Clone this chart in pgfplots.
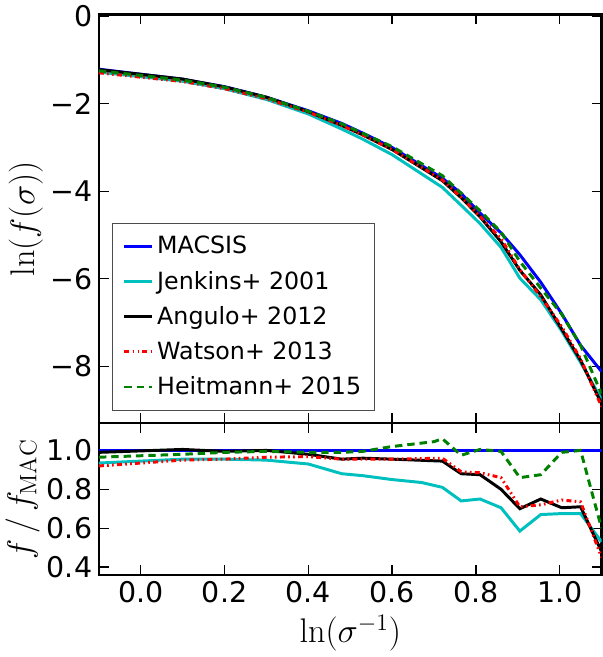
\documentclass[border=0pt]{standalone}
\usepackage{fontspec}
\setsansfont{DejaVu Sans}
\usepackage{pgfplots}
\pgfplotsset{compat=1.18}
\definecolor{mcyan}{rgb}{0,0.75,0.75}
\definecolor{mgreen}{rgb}{0,0.5,0}
\pgfplotsset{
  every axis/.append style={
    scale only axis, width=305pt, xmin=-0.1, xmax=1.1,
    line width=1.5pt, tick style={line width=0.8pt,black}, tick align=inside,
    major tick length=6pt,
    ticklabel style={font=\sffamily\LARGE},
    /pgf/number format/assume math mode=true,
    /pgf/number format/fixed, /pgf/number format/fixed zerofill,
    label style={font=\huge},
  },
  ser/.style={line width=1.8pt},
}
\begin{document}
\begin{tikzpicture}
\begin{axis}[name=top, height=248pt, ymin=-9.3, ymax=0.04,
  xticklabels={}, ytick={0,-2,-4,-6,-8}, yticklabels={0,−2,−4,−6,−8},
  ylabel={$\ln(f(\sigma))$}, ylabel style={yshift=-3pt},
  legend style={at={(0.027,0.03)}, anchor=south west, font=\sffamily\Large, draw=black!70, line width=0.6pt, row sep=5pt, inner sep=6pt},
  legend cell align=left]
\addplot[blue, ser] coordinates {(-0.1,-1.21)(0.1,-1.44)(0.2,-1.61)(0.3,-1.85)(0.4,-2.16)(0.48,-2.45)(0.53,-2.67)(0.6,-3.0)(0.72,-3.70)(0.765,-4.05)(0.81,-4.5)(0.86,-4.95)(0.905,-5.45)(0.955,-6.08)(1.005,-6.8)(1.05,-7.52)(1.1,-8.12)};
\addplot[mcyan, ser] coordinates {(-0.1,-1.277)(0.1,-1.486)(0.2,-1.656)(0.3,-1.901)(0.4,-2.233)(0.48,-2.578)(0.53,-2.809)(0.6,-3.163)(0.72,-3.911)(0.765,-4.321)(0.81,-4.738)(0.86,-5.28)(0.905,-5.986)(0.955,-6.48)(1.005,-7.193)(1.05,-7.913)(1.1,-8.755)};
\addplot[black, ser] coordinates {(-0.1,-1.22)(0.1,-1.435)(0.2,-1.615)(0.3,-1.85)(0.4,-2.18)(0.48,-2.496)(0.53,-2.711)(0.6,-3.046)(0.72,-3.757)(0.765,-4.148)(0.81,-4.584)(0.86,-5.153)(0.905,-5.807)(0.955,-6.368)(1.005,-7.15)(1.05,-7.862)(1.1,-8.854)};
\addplot[red, ser, dash pattern=on 3pt off 2pt on 1pt off 2pt on 1pt off 2pt] coordinates {(-0.1,-1.293)(0.1,-1.491)(0.2,-1.656)(0.3,-1.886)(0.4,-2.193)(0.48,-2.496)(0.53,-2.716)(0.6,-3.046)(0.72,-3.741)(0.765,-4.137)(0.81,-4.572)(0.86,-5.081)(0.905,-5.792)(0.955,-6.409)(1.005,-7.094)(1.05,-7.828)(1.1,-8.919)};
\addplot[mgreen, ser, dash pattern=on 4.5pt off 3pt] coordinates {(-0.1,-1.246)(0.1,-1.46)(0.2,-1.62)(0.3,-1.855)(0.4,-2.17)(0.48,-2.46)(0.53,-2.675)(0.6,-2.98)(0.72,-3.642)(0.765,-4.045)(0.81,-4.445)(0.86,-4.935)(0.905,-5.601)(0.955,-6.214)(1.005,-6.81)(1.05,-7.52)(1.1,-8.631)};
\legend{MACSIS, Jenkins+ 2001, Angulo+ 2012, Watson+ 2013, Heitmann+ 2015}
\end{axis}
\begin{axis}[at={(top.south west)}, anchor=north west, height=92pt,
  ymin=0.36, ymax=1.14, ytick={0.4,0.6,0.8,1.0}, xtick={0,0.2,0.4,0.6,0.8,1.0},
  ticklabel style={/pgf/number format/precision=1},
  ylabel={$f\,/\,f_{\mathrm{MAC}}$}, ylabel style={yshift=-3pt}, xlabel={$\ln(\sigma^{-1})$}]
\addplot[blue, ser] coordinates {(-0.1,1)(1.1,1)};
\addplot[mcyan, ser] coordinates {(-0.1,0.935)(0.1,0.955)(0.2,0.955)(0.3,0.95)(0.4,0.93)(0.48,0.88)(0.53,0.87)(0.6,0.85)(0.67,0.835)(0.72,0.81)(0.765,0.74)(0.81,0.75)(0.86,0.705)(0.905,0.585)(0.955,0.67)(1.005,0.675)(1.05,0.675)(1.1,0.53)};
\addplot[black, ser] coordinates {(-0.1,0.99)(0.1,1.005)(0.2,0.995)(0.3,1.0)(0.4,0.98)(0.48,0.955)(0.53,0.96)(0.6,0.955)(0.72,0.945)(0.765,0.88)(0.81,0.875)(0.86,0.8)(0.905,0.7)(0.955,0.75)(1.005,0.705)(1.05,0.71)(1.1,0.48)};
\addplot[red, ser, dash pattern=on 3pt off 2pt on 1pt off 2pt on 1pt off 2pt] coordinates {(-0.1,0.92)(0.1,0.95)(0.2,0.955)(0.3,0.965)(0.4,0.968)(0.48,0.955)(0.53,0.955)(0.6,0.955)(0.72,0.96)(0.765,0.89)(0.81,0.885)(0.86,0.86)(0.905,0.71)(0.955,0.72)(1.005,0.745)(1.05,0.735)(1.1,0.45)};
\addplot[mgreen, ser, dash pattern=on 4.5pt off 3pt] coordinates {(-0.1,0.965)(0.1,0.98)(0.2,0.99)(0.3,0.995)(0.4,0.99)(0.48,0.99)(0.53,0.995)(0.6,1.02)(0.7,1.045)(0.72,1.06)(0.765,0.975)(0.81,1.005)(0.86,0.995)(0.905,0.86)(0.955,0.875)(1.005,0.99)(1.05,1.0)(1.1,0.6)};
\end{axis}
\end{tikzpicture}
\end{document}
